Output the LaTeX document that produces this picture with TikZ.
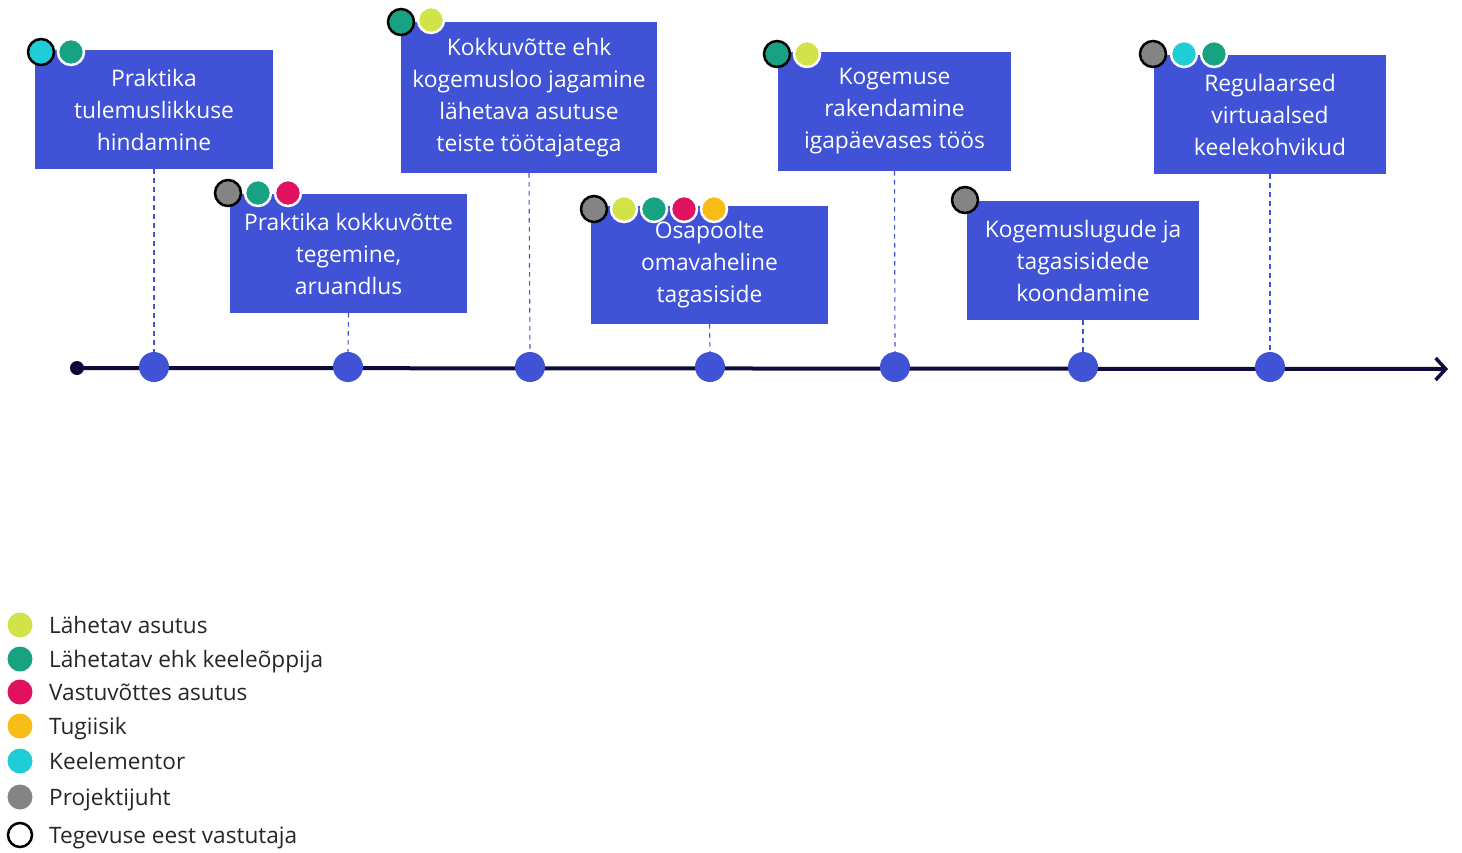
\documentclass[tikz,border=0pt]{standalone}
\usepackage{fontspec}
\setmainfont{Open Sans}
\usetikzlibrary{arrows.meta,positioning}
\definecolor{boxblue}{HTML}{4052D6}
\definecolor{navy}{HTML}{0E0B3B}
\definecolor{rlime}{HTML}{D2E34A}
\definecolor{rgreen}{HTML}{17A281}
\definecolor{rpink}{HTML}{E0115F}
\definecolor{ryellow}{HTML}{F8BC17}
\definecolor{rcyan}{HTML}{1ECDD6}
\definecolor{rgray}{HTML}{848484}
\tikzset{stepbox/.style={fill=boxblue, text=white, align=center, inner sep=0pt, font=\fontsize{22.8}{32}\selectfont}, tdot/.style={circle, fill=boxblue, minimum size=30pt, inner sep=0pt}, link/.style={boxblue, line width=1.1pt, dash pattern=on 4.5pt off 4.5pt}, role/.style={circle, minimum size=26pt, inner sep=0pt, draw=white, line width=2.5pt}, lead/.style={role, draw=black}, legdot/.style={circle, minimum size=25pt, inner sep=0pt}, legtxt/.style={anchor=base west, inner sep=0pt, text=black!85, font=\fontsize{22.6}{30}\selectfont}}
\begin{document}
\begin{tikzpicture}[x=1pt, y=-1pt]
\useasboundingbox (0,0) rectangle (1462,852);
% ajatelg
\node[circle, fill=navy, minimum size=14pt, inner sep=0pt] (start) at (77,368) {};
\coordinate (end) at (1448,369);
\draw[navy, line width=4pt, -{Straight Barb[length=10pt, width=22pt, line width=3.5pt]}] (start.center) -- (end);
\foreach \n/\x in {1/154, 2/348, 3/530, 4/710, 5/895, 6/1083, 7/1270} \node[tdot] (t\n) at (\x,367) {};
% tegevused
\node[stepbox, minimum width=238pt, minimum height=119pt] (b1) at (154,109.5) {Praktika\\tulemuslikkuse\\hindamine};
\node[stepbox, minimum width=237pt, minimum height=119pt] (b2) at (348.5,253.5) {Praktika kokkuvõtte\\tegemine,\\aruandlus};
\node[stepbox, minimum width=256pt, minimum height=151pt] (b3) at (529,97.5) {Kokkuvõtte ehk\\kogemusloo jagamine\\lähetava asutuse\\teiste töötajatega};
\node[stepbox, minimum width=237pt, minimum height=118pt] (b4) at (709.5,265) {Osapoolte\\omavaheline\\tagasiside};
\node[stepbox, minimum width=233pt, minimum height=119pt] (b5) at (894.5,111.5) {Kogemuse\\rakendamine\\igapäevases töös};
\node[stepbox, minimum width=232pt, minimum height=119pt] (b6) at (1083,260.5) {Kogemuslugude ja\\tagasisidede\\koondamine};
\node[stepbox, minimum width=232pt, minimum height=119pt] (b7) at (1270,114.5) {Regulaarsed\\virtuaalsed\\keelekohvikud};
\foreach \n in {1,...,7} \draw[link] (b\n.south) -- (t\n.north);
% osalejad
\node[role, fill=rgreen] (r12) at (71,52) {}; \node[lead, fill=rcyan] (r11) at (41,52) {};
\node[role, fill=rpink] (r23) at (288,193) {}; \node[role, fill=rgreen] (r22) at (258,193) {}; \node[lead, fill=rgray] (r21) at (228,193) {};
\node[role, fill=rlime] (r32) at (431,20) {}; \node[lead, fill=rgreen] (r31) at (401,22) {};
\node[role, fill=ryellow] (r45) at (714,209) {}; \node[role, fill=rpink] (r44) at (684,209) {}; \node[role, fill=rgreen] (r43) at (654,209) {}; \node[role, fill=rlime] (r42) at (624,209) {}; \node[lead, fill=rgray] (r41) at (594,209) {};
\node[role, fill=rlime] (r52) at (807,54) {}; \node[lead, fill=rgreen] (r51) at (777,54) {};
\node[lead, fill=rgray] (r61) at (965,200) {};
\node[role, fill=rgreen] (r73) at (1214,54) {}; \node[role, fill=rcyan] (r72) at (1184,54) {}; \node[lead, fill=rgray] (r71) at (1153,54) {};
% legend
\node[legdot, fill=rlime] (l1) at (20,625) {}; \node[legtxt] (lt1) at (49,633) {Lähetav asutus};
\node[legdot, fill=rgreen] (l2) at (20,659) {}; \node[legtxt] (lt2) at (49,667) {Lähetatav ehk keeleõppija};
\node[legdot, fill=rpink] (l3) at (20,692) {}; \node[legtxt] (lt3) at (49,700) {Vastuvõttes asutus};
\node[legdot, fill=ryellow] (l4) at (20,726) {}; \node[legtxt] (lt4) at (49,734) {Tugiisik};
\node[legdot, fill=rcyan] (l5) at (20,761) {}; \node[legtxt] (lt5) at (49,769) {Keelementor};
\node[legdot, fill=rgray] (l6) at (20,797) {}; \node[legtxt] (lt6) at (49,805) {Projektijuht};
\node[legdot, draw=black, line width=2.5pt, minimum size=24pt] (l7) at (20,835) {}; \node[legtxt] (lt7) at (49,843) {Tegevuse eest vastutaja};
\end{tikzpicture}
\end{document}
